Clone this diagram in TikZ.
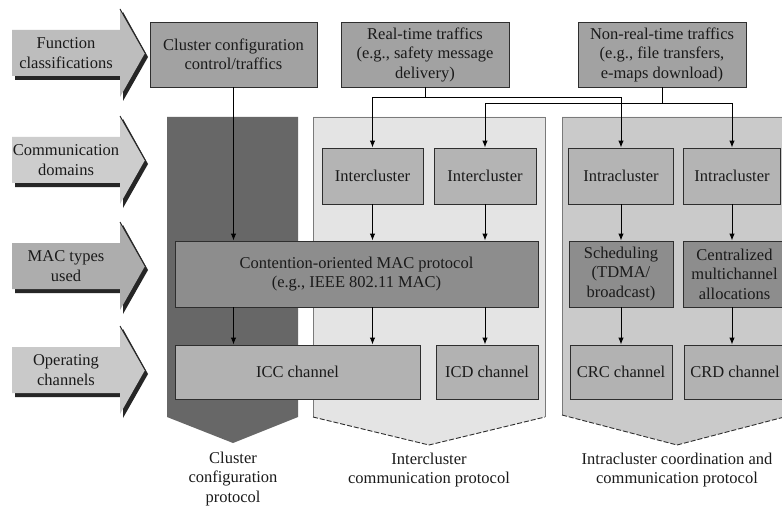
\documentclass[tikz,border=0pt]{standalone}
\usepackage{fontspec}
\setmainfont{Liberation Serif}
\usetikzlibrary{arrows.meta,calc}

\definecolor{txt}{HTML}{1A1A1A}
\definecolor{edge}{HTML}{2E2E2E}
\definecolor{topgray}{HTML}{A2A2A2}
\definecolor{darkpanel}{HTML}{676767}
\definecolor{lightpanel}{HTML}{E4E4E4}
\definecolor{medpanel}{HTML}{CACACA}
\definecolor{panelline}{HTML}{7A7A7A}
\definecolor{domgray}{HTML}{B4B4B4}
\definecolor{macgray}{HTML}{8D8D8D}
\definecolor{changray}{HTML}{B2B2B2}
\definecolor{sideshadow}{HTML}{262626}
\definecolor{sideA}{HTML}{BDBDBD}
\definecolor{sideB}{HTML}{CDCDCD}
\definecolor{sideC}{HTML}{ADADAD}
\definecolor{sideD}{HTML}{C9C9C9}

\newcommand{\diafont}{\fontsize{16.5}{19.5}\selectfont}

% side pointer: #1 = vertical centre, #2 = fill colour
\newcommand{\sidearrow}[2]{%
  \fill[sideshadow] (15,#1-20) -- (123,#1-20) -- (123,#1-41)
    -- (148,#1+4) -- (123,#1+48) -- (123,#1+27) -- (15,#1+27) -- cycle;
  \fill[#2] (12,#1-23) -- (120,#1-23) -- (120,#1-44)
    -- (145,#1) -- (120,#1+44) -- (120,#1+23) -- (12,#1+23) -- cycle;
  \draw[sideshadow,line width=0.9pt] (120,#1-44) -- (145,#1);
}

\begin{document}
\begin{tikzpicture}[x=1pt,y=-1pt,
  every node/.style={text=txt,font=\diafont},
  label/.style={align=center,inner sep=0pt},
  topbox/.style={draw=edge,line width=0.9pt,fill=topgray,align=center,
    inner sep=2pt,minimum height=65pt},
  dombox/.style={draw=edge,line width=0.9pt,fill=domgray,align=center,
    inner sep=2pt,minimum height=56pt},
  macbox/.style={draw=edge,line width=0.9pt,fill=macgray,align=center,
    inner sep=2pt,minimum height=66pt},
  chanbox/.style={draw=edge,line width=0.9pt,fill=changray,align=center,
    inner sep=2pt,minimum height=54pt},
  link/.style={draw=black,line width=1pt},
  arr/.style={link,-{Latex[length=7pt,width=5.5pt]}},
  panelrim/.style={draw=panelline,line width=0.8pt},
  panelbase/.style={draw=edge,line width=0.9pt,dash pattern=on 5pt off 2pt}
]
\useasboundingbox (0,0) rectangle (782,508);
\clip (0,0) rectangle (782,508);
\fill[white] (0,0) rectangle (782,508);

% row pointers on the left
\sidearrow{53}{sideA}
\sidearrow{160}{sideB}
\sidearrow{266}{sideC}
\sidearrow{370}{sideD}
\node[label] (rowfun) at (66,53) {Function\\classifications};
\node[label] (rowdom) at (66,160) {Communication\\domains};
\node[label] (rowmac) at (66,266) {MAC types\\used};
\node[label] (rowch)  at (66,370) {Operating\\channels};

% protocol panels
\fill[darkpanel] (167,117) -- (298,117) -- (298,417) -- (233,443) -- (167,417) -- cycle;
\fill[lightpanel] (313,117) -- (545,117) -- (545,417) -- (429,445) -- (313,417) -- cycle;
\draw[panelrim] (313,417) -- (313,117) -- (545,117) -- (545,417);
\draw[panelbase] (313,417) -- (429,445) -- (545,417);
\fill[medpanel] (562,117) -- (792,117) -- (792,415) -- (677,445) -- (562,415) -- cycle;
\draw[panelrim] (562,415) -- (562,117) -- (792,117);
\draw[panelbase] (562,415) -- (677,445) -- (792,415);

% function classifications
\node[topbox,minimum width=167pt] (cfg) at (233.5,54.5) {Cluster configuration\\control/traffics};
\node[topbox,minimum width=168pt] (rt)  at (425,54.5) {Real-time traffics\\(e.g., safety message\\delivery)};
\node[topbox,minimum width=168pt] (nrt) at (662,54.5) {Non-real-time traffics\\(e.g., file transfers,\\e-maps download)};

% communication domains
\node[dombox,minimum width=101pt] (ic1) at (372.5,176) {Intercluster};
\node[dombox,minimum width=102pt] (ic2) at (485,176) {Intercluster};
\node[dombox,minimum width=105pt] (ia1) at (621,176) {Intracluster};
\node[dombox,minimum width=97pt]  (ia2) at (732,176) {Intracluster};

% MAC types
\node[macbox,minimum width=363pt] (mac) at (356.5,274) {Contention-oriented MAC protocol\\(e.g., IEEE 802.11 MAC)};
\node[macbox,minimum width=104pt] (sch) at (621,274) {Scheduling\\(TDMA/\\broadcast)};
\node[macbox,minimum width=103pt] (cen) at (734.5,274) {Centralized\\multichannel\\allocations};

% operating channels
\node[chanbox,minimum width=245pt] (icc) at (297.5,372) {ICC channel};
\node[chanbox,minimum width=102pt] (icd) at (487,372) {ICD channel};
\node[chanbox,minimum width=102pt] (crc) at (621,372) {CRC channel};
\node[chanbox,minimum width=102pt] (crd) at (735,372) {CRD channel};

% connectors
\draw[arr] (cfg.south) -- (cfg.south |- mac.north);
\draw[arr] (rt.south) -- ++(0,10) -| (ic1.north);
\draw[arr] (rt.south) -- ++(0,10) -| (ia1.north);
\draw[arr] (nrt.south) -- ++(0,16) -| (ic2.north);
\draw[arr] (nrt.south) -- ++(0,16) -| (ia2.north);
\draw[arr] (ic1.south) -- (ic1.south |- mac.north);
\draw[arr] (ic2.south) -- (ic2.south |- mac.north);
\draw[arr] (ia1.south) -- (sch.north);
\draw[arr] (ia2.south) -- (ia2.south |- cen.north);
\draw[arr] (mac.south -| cfg.south) -- (icc.north -| cfg.south);
\draw[arr] (mac.south -| ic1.south) -- (icc.north -| ic1.south);
\draw[arr] (mac.south -| ic2.south) -- (icd.north -| ic2.south);
\draw[arr] (sch.south) -- (crc.north);
\draw[arr] (cen.south -| ia2.south) -- (crd.north -| ia2.south);

% protocol names
\node[label] (pcfg) at (233,479) {Cluster\\configuration\\protocol};
\node[label] (pint) at (429,470) {Intercluster\\communication protocol};
\node[label] (pintra) at (677,470) {Intracluster coordination and\\communication protocol};
\end{tikzpicture}
\end{document}
